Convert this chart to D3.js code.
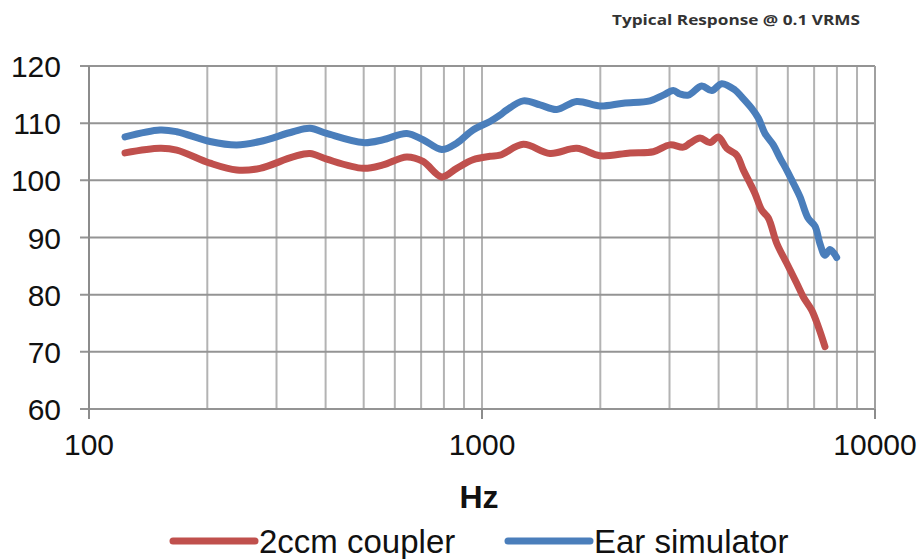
<!DOCTYPE html>
<html><head><meta charset="utf-8">
<script src="https://cdn.jsdelivr.net/npm/d3@7"></script>
<style>
html,body{margin:0;padding:0;background:#fff;}
svg{display:block;}
</style></head>
<body>
<svg id="chart" width="920" height="559"></svg>
<script>
// Data (frequency in Hz, level in dB)
const coupler_freq = [123.5,151.6,167.2,203.2,237.6,272.4,330.4,365,402.6,498.8,560,643.5,707.8,789.7,862.3,948.6,1048,1111,1274,1489,1742,1997,2381,2729,3008,3252,3382,3587,3803,3993,4195,4448,4623,4808,4950,5148,5352,5622,5962,6321,6570,6901,7174,7460];
const coupler_db   = [104.8,105.6,105.3,103.0,101.8,102.1,104.1,104.7,103.7,102.1,102.7,104.1,103.3,100.6,102.1,103.6,104.2,104.4,106.3,104.7,105.6,104.3,104.8,105.0,106.2,105.8,106.5,107.4,106.6,107.6,105.6,104.4,101.8,99.5,97.7,94.8,93.4,89.0,85.5,82.0,79.6,77.3,74.4,70.9];
const ear_freq = [123.5,151.6,167.2,203.2,237.6,272.4,330.4,365,402.6,498.8,560,643.5,707.8,789.7,862.3,948.6,1048,1111,1156,1274,1405,1549,1742,1997,2288,2676,2893,3068,3190,3350,3622,3842,4073,4403,4580,4857,5047,5248,5511,5733,5962,6198,6445,6753,7035,7244,7460,7683,7988];
const ear_db   = [107.6,108.8,108.5,106.8,106.2,106.8,108.5,109.1,108.2,106.6,107.1,108.2,107.1,105.4,106.5,108.8,110.3,111.4,112.3,113.9,113.2,112.4,113.8,113.0,113.5,113.9,114.9,115.7,115.1,114.9,116.5,115.7,116.9,115.8,114.6,112.6,110.9,108.2,106.2,103.9,101.8,99.5,97.1,93.4,92.0,88.9,86.9,87.9,86.5];
const y_ticks = [60,70,80,90,100,110,120];
const x_major = [100,1000,10000];
const x_minor = [200,300,400,500,600,700,800,900,2000,3000,4000,5000,6000,7000,8000,9000];
const series_names = ["2ccm coupler","Ear simulator"];
const series_colors = ["#C0504D","#4A7EBB"];
const title_text = "Typical Response @ 0.1 VRMS";
const x_title = "Hz";

const svg = d3.select("#chart");
const pL = 89, pR = 875, pT = 66, pB = 409;
const x = d3.scaleLog().domain([100,10000]).range([pL,pR]);
const y = d3.scaleLinear().domain([60,120]).range([pB,pT]);
const sans = "'Liberation Sans',Arial,sans-serif";

// vertical grid
svg.append("g").selectAll("line").data(x_minor.concat(x_major)).join("line")
  .attr("x1",d=>x(d)).attr("x2",d=>x(d)).attr("y1",pT).attr("y2",pB)
  .attr("stroke","#b3b3b3").attr("stroke-width",2);
// horizontal grid
svg.append("g").selectAll("line").data(y_ticks).join("line")
  .attr("x1",pL-9).attr("x2",pR).attr("y1",d=>y(d)).attr("y2",d=>y(d))
  .attr("stroke","#949494").attr("stroke-width",2);
// frame
svg.append("line").attr("x1",pL).attr("x2",pL).attr("y1",pT).attr("y2",pB+1)
  .attr("stroke","#8c8c8c").attr("stroke-width",2);
svg.append("line").attr("x1",pR).attr("x2",pR).attr("y1",pT).attr("y2",pB)
  .attr("stroke","#a0a0a0").attr("stroke-width",2);
// major x ticks
svg.append("g").selectAll("line").data(x_major).join("line")
  .attr("x1",d=>x(d)).attr("x2",d=>x(d)).attr("y1",pB).attr("y2",pB+10)
  .attr("stroke","#8c8c8c").attr("stroke-width",2);

// y labels
svg.append("g").selectAll("text").data(y_ticks).join("text")
  .attr("x",61).attr("y",d=>y(d)+11).attr("text-anchor","end")
  .attr("font-family",sans).attr("font-size",30).attr("fill","#111").text(d=>d);
// x labels
svg.append("g").selectAll("text").data(x_major).join("text")
  .attr("x",d=>x(d)).attr("y",455).attr("text-anchor","middle")
  .attr("font-family",sans).attr("font-size",30).attr("fill","#111").text(d=>d);

// lines
const line = d3.line().x(d=>x(d[0])).y(d=>y(d[1])).curve(d3.curveCatmullRom.alpha(0.5));
const data = [
  d3.zip(coupler_freq, coupler_db),
  d3.zip(ear_freq, ear_db)
];
svg.append("g").selectAll("path").data(data).join("path")
  .attr("d",line).attr("fill","none")
  .attr("stroke",(d,i)=>series_colors[i]).attr("stroke-width",7)
  .attr("stroke-linecap","round").attr("stroke-linejoin","round");

// axis title
svg.append("text").attr("x",479).attr("y",508).attr("text-anchor","middle")
  .attr("font-family",sans).attr("font-weight","bold")
  .attr("font-size",32).attr("fill","#111").text(x_title);

// legend
const legX = [173,508];
const lg = svg.append("g").selectAll("g").data(series_names).join("g");
lg.append("line").attr("x1",(d,i)=>legX[i]).attr("x2",(d,i)=>legX[i]+82)
  .attr("y1",541).attr("y2",541).attr("stroke",(d,i)=>series_colors[i])
  .attr("stroke-width",7).attr("stroke-linecap","round");
lg.append("text").attr("x",(d,i)=>legX[i]+86).attr("y",553)
  .attr("font-family",sans).attr("font-size",33).attr("fill","#111").text(d=>d);

// title
svg.append("text").attr("x",860).attr("y",25).attr("text-anchor","end")
  .attr("font-family","'Open Sans',sans-serif").attr("font-weight","bold")
  .attr("font-size",15).attr("textLength",248).attr("lengthAdjust","spacingAndGlyphs")
  .attr("fill","#333").text(title_text);
</script>
</body></html>
